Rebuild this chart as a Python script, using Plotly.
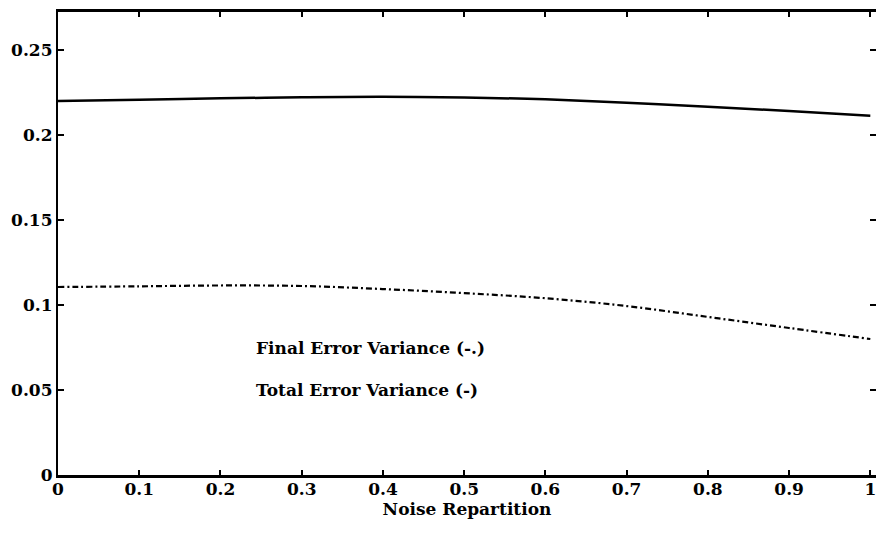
import plotly.graph_objects as go

# Data
noise_rep = [0.0, 0.1, 0.2, 0.3, 0.4, 0.5, 0.6, 0.7, 0.8, 0.9, 1.0]
total_err = [0.2200, 0.2208, 0.2216, 0.2222, 0.2225, 0.2221, 0.2210, 0.2190, 0.2167, 0.2141, 0.2114]
final_err = [0.1106, 0.1110, 0.1115, 0.1112, 0.1094, 0.1070, 0.1040, 0.0994, 0.0930, 0.0865, 0.0800]

x_ticks = [0, 0.1, 0.2, 0.3, 0.4, 0.5, 0.6, 0.7, 0.8, 0.9, 1.0]
x_ticktext = ["0", "0.1", "0.2", "0.3", "0.4", "0.5", "0.6", "0.7", "0.8", "0.9", "1"]
y_ticks = [0, 0.05, 0.1, 0.15, 0.2, 0.25]
y_ticktext = ["0", "0.05", "0.1", "0.15", "0.2", "0.25"]

label_final = "Final Error Variance (-.)"
label_total = "Total Error Variance (-)"
x_title = "Noise Repartition"

FONT = "DejaVu Serif"
X_RANGE = [0, 1.007]
Y_RANGE = [0, 0.2724]

fig = go.Figure()
fig.add_trace(go.Scatter(x=noise_rep, y=total_err, mode="lines", line=dict(color="black", width=2.5, shape="spline"),
                         showlegend=False, hoverinfo="skip"))
fig.add_trace(go.Scatter(x=noise_rep, y=final_err, mode="lines",
                         line=dict(color="black", width=2.2, dash="6px,3px,2px,3px", shape="spline"),
                         showlegend=False, hoverinfo="skip"))
# dummy trace to make the right tick axis render
fig.add_trace(go.Scatter(x=[None], y=[None], yaxis="y2", showlegend=False, hoverinfo="skip"))

fig.add_annotation(x=0.241, y=0.0747, xref="x", yref="y", text=label_final, showarrow=False,
                   xanchor="left", yanchor="middle", font=dict(family=FONT, size=17, color="black", weight=700))
fig.add_annotation(x=0.241, y=0.050, xref="x", yref="y", text=label_total, showarrow=False,
                   xanchor="left", yanchor="middle", font=dict(family=FONT, size=17, color="black", weight=700))

fig.update_layout(
    width=876,
    height=536,
    autosize=False,
    margin=dict(l=58, r=0, t=12, b=61, autoexpand=False),
    paper_bgcolor="white",
    plot_bgcolor="white",
    font=dict(family=FONT, size=17, color="black", weight=700),
    xaxis=dict(range=X_RANGE, tickvals=x_ticks, ticktext=x_ticktext, ticks="inside", ticklen=5,
               tickwidth=2, tickcolor="black", showline=True, linecolor="black", linewidth=2.5,
               mirror="ticks", showgrid=False, zeroline=False, ticklabeloverflow="allow",
               ticklabelstandoff=-3, automargin=False,
               title=dict(text=x_title, font=dict(family=FONT, size=17, weight=700), standoff=4),
               tickfont=dict(family=FONT, size=17, weight=700)),
    yaxis=dict(range=Y_RANGE, tickvals=y_ticks, ticktext=y_ticktext, ticks="inside", ticklen=6,
               tickwidth=2, tickcolor="black", showline=True, linecolor="black", linewidth=2.2,
               mirror=False, showgrid=False, zeroline=False, automargin=False,
               tickfont=dict(family=FONT, size=17, weight=700)),
    yaxis2=dict(range=Y_RANGE, overlaying="y", side="right", tickvals=y_ticks, ticks="inside", ticklen=6,
                tickwidth=2, tickcolor="black", showline=False, showticklabels=False,
                showgrid=False, zeroline=False, automargin=False),
)

post = ("document.documentElement.style.margin='0';document.body.style.margin='0';"
        "document.body.style.overflow='hidden';document.documentElement.style.overflow='hidden';")
fig.write_html("out.html", post_script=post, config={"displayModeBar": False})
